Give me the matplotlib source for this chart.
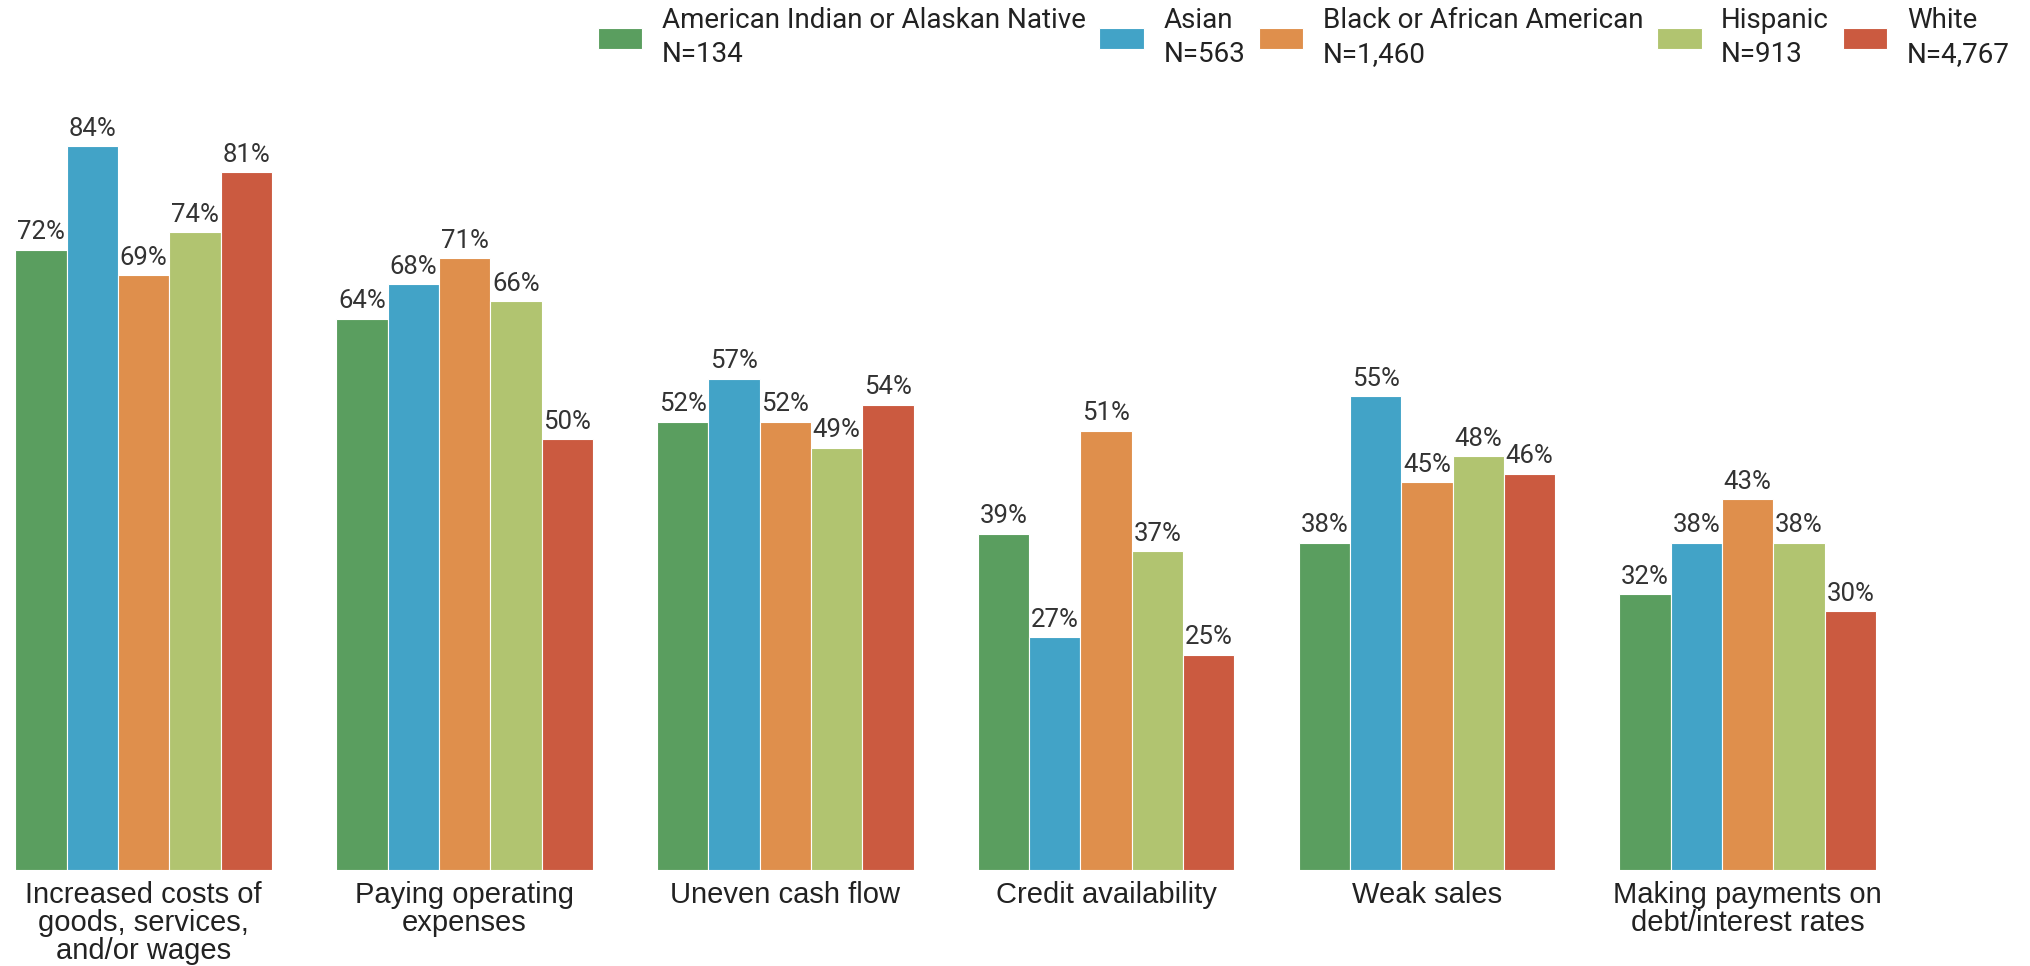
import numpy as np
from matplotlib import pyplot as plt

categories = [
    "Increased costs of\ngoods, services,\nand/or wages",
    "Paying operating\nexpenses",
    "Uneven cash flow",
    "Credit availability",
    "Weak sales",
    "Making payments on\ndebt/interest rates",
]
groups = [
    "American Indian or Alaskan Native\nN=134",
    "Asian\nN=563",
    "Black or African American\nN=1,460",
    "Hispanic\nN=913",
    "White\nN=4,767",
]
american_indian = [72, 64, 52, 39, 38, 32]
asian = [84, 68, 57, 27, 55, 38]
black = [69, 71, 52, 51, 45, 43]
hispanic = [74, 66, 49, 37, 48, 38]
white = [81, 50, 54, 25, 46, 30]

colors = ["#5a9e5f", "#42a3c7", "#df8f4c", "#b1c470", "#cb5a40"]
series = [american_indian, asian, black, hispanic, white]

fig = plt.figure(figsize=(20.31, 9.66), dpi=100)
ax = fig.add_axes([0, 0.0994, 1, 0.8206])

x = np.arange(len(categories))
w = 0.16
for i, (vals, name) in enumerate(zip(series, groups)):
    bars = ax.bar(x + (i - 2) * w, vals, w, color=colors[i], label=name,
                  edgecolor="white", linewidth=0.8)
    ax.bar_label(bars, labels=[f"{v}%" for v in vals], padding=4,
                 fontsize=18.5, color="#333333", family="Roboto")

ax.set_xlim(-0.448, 5.883)
ax.set_ylim(0, 92)
ax.set_xticks(x)
ax.set_xticklabels(categories, fontsize=21, family="Liberation Sans",
                   color="#222222", linespacing=1.0)
ax.tick_params(axis="x", length=0, pad=8)
ax.set_yticks([])
for s in ax.spines.values():
    s.set_visible(False)

leg = fig.legend(loc="upper right", bbox_to_anchor=(0.995, 1.004), ncol=5,
                 frameon=False, prop={"family": "Roboto", "size": 20},
                 handlelength=1.6, handleheight=0.8, handletextpad=0.7,
                 columnspacing=0.5, borderaxespad=0.0)
for t in leg.get_texts():
    t.set_color("#222222")
    t.set_linespacing(1.3)

plt.savefig("out.png", dpi=100)
plt.close()
